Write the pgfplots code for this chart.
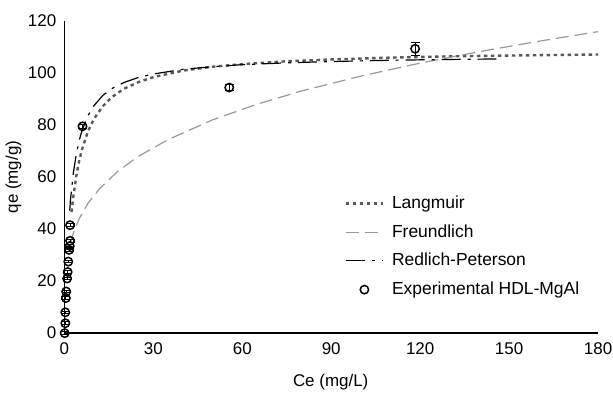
\documentclass[border=0pt]{standalone}
\usepackage{fontspec}
\setmainfont{Liberation Sans}
\usepackage{pgfplots}
\pgfplotsset{compat=1.18}
\begin{document}
\fontsize{17}{20}\selectfont
\begin{tikzpicture}
\begin{axis}[
  scale only axis,
  width=535pt, height=313pt,
  xmin=0, xmax=180, ymin=0, ymax=120,
  xtick={0,30,...,180}, ytick={0,20,...,120},
  axis x line*=bottom, axis y line*=left,
  axis line style={line width=1.3pt, -},
  major tick length=0pt,
  /pgf/number format/assume math mode=true,
  tick label style={font=\fontsize{17}{20}\selectfont, inner sep=0pt},
  xticklabel style={yshift=-9pt},
  yticklabel style={xshift=-8pt},
  xlabel={Ce (mg/L)}, ylabel={qe (mg/g)},
  label style={font=\fontsize{17}{20}\selectfont},
  xlabel style={at={(axis description cs:0.499,-0.158)}, anchor=center},
  ylabel style={at={(axis description cs:-0.0953,0.5)}, anchor=center, rotate=0},
  legend style={draw=none, fill=none, at={(axis description cs:0.525,0.447)}, anchor=north west,
    font=\fontsize{17.5}{20}\selectfont, row sep=9.6pt, column sep=6pt, inner sep=0pt},
  legend cell align=left,
  legend image code/.code={\draw[mark repeat=2,mark phase=2,#1] plot coordinates {(0pt,0pt) (18.5pt,0pt) (37pt,0pt)};},
  clip=false,
]
\addplot[color=black!65, line width=2.4pt, dash pattern=on 3.5pt off 3.5pt] coordinates {
(2.4,46.6)(3,52.5)(4,60.3)(5,66.3)(6,70.9)(8,77.7)(10,82.4)(13,87.3)(16,90.7)(20,93.9)(25,96.5)(30,98.4)(40,100.9)(50,102.4)(60,103.4)(75,104.5)(90,105.2)(110,105.9)(130,106.4)(150,106.7)(165,106.9)(180,107.1)};
\addlegendentry{Langmuir}
\addplot[color=black!40, line width=1.2pt, dash pattern=on 13pt off 6pt] coordinates {
(2,34.4)(3,38.3)(5,44.0)(8,50.0)(12,55.7)(18,62.2)(25,68.0)(35,74.4)(50,82.0)(65,88.0)(80,93.1)(100,98.8)(120,103.8)(140,108.2)(160,112.2)(180,115.9)};
\addlegendentry{Freundlich}
\addplot[color=black, line width=1.2pt, dash pattern=on 19pt off 7pt on 3pt off 7pt] coordinates {
(1.8,47.1)(2,50.7)(3,61.5)(4,68.8)(5,74.1)(6,78.1)(8,83.7)(10,87.5)(13,91.4)(16,94.0)(20,96.3)(25,98.3)(30,99.6)(40,101.4)(50,102.4)(60,103.2)(75,103.9)(90,104.4)(110,104.9)(130,105.2)(147,105.4)};
\addlegendentry{Redlich-Peterson}
\addplot[only marks, mark=o, mark size=4.2pt, color=black, mark options={line width=1.5pt},
  error bars/.cd, y dir=both, y explicit,
  error bar style={line width=1pt, black},
  error mark options={rotate=90, mark size=4.5pt, line width=1pt}] coordinates {
(0.1,0) +- (0,0.5)
(0.3,3.8) +- (0,0.5)
(0.3,8) +- (0,0.5)
(0.5,13.5) +- (0,0.5)
(0.6,16) +- (0,0.5)
(0.9,21) +- (0,0.5)
(1.1,23.5) +- (0,0.5)
(1.3,27.5) +- (0,0.5)
(1.6,32) +- (0,0.5)
(1.8,33.5) +- (0,0.5)
(1.9,35.5) +- (0,0.5)
(1.9,41.5) +- (0,0.5)
(6.1,79.5) +- (0,0.8)
(55.6,94.4) +- (0,1)
(118.3,109.3) +- (0,2.5)};
\addlegendentry{Experimental HDL-MgAl}
\end{axis}
\path[use as bounding box] ([xshift=-63pt,yshift=-59pt]current axis.south west) rectangle ([xshift=15pt,yshift=21pt]current axis.north east);
\end{tikzpicture}
\end{document}
